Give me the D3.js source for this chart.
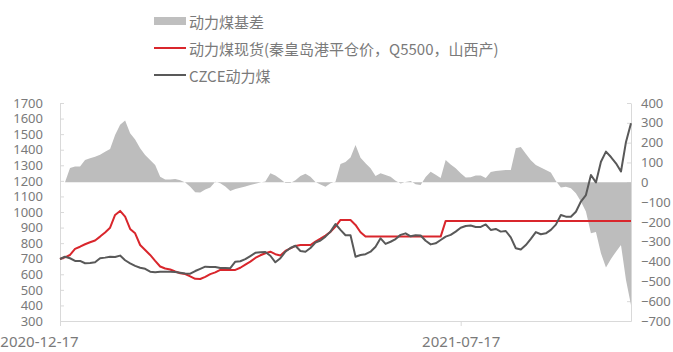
<!DOCTYPE html>
<html>
<head>
<meta charset="utf-8">
<script src="https://cdn.jsdelivr.net/npm/d3@7"></script>
<style>
  body { margin: 0; background: #fff; }
  svg { font-family: "Noto Sans CJK SC", "Noto Sans", sans-serif; }
</style>
</head>
<body>
<div id="chart"></div>
<script>
// 动力煤现货 (秦皇岛港平仓价, Q5500, 山西产)
const spot = [
  698, 709, 724, 763, 777, 793, 806, 817, 842, 869, 899, 981, 1007, 970, 891, 863, 788, 756, 724, 686,
  650, 637, 631, 618, 607, 602, 587, 571, 570, 583, 601, 612, 628, 628, 628, 628, 642, 662, 681, 705,
  722, 735, 745, 729, 721, 750, 766, 782, 788, 788, 788, 810, 829, 849, 872, 906, 949, 949, 949, 917,
  870, 842, 842, 842, 842, 842, 842, 842, 842, 842, 842, 842, 842, 842, 842, 842, 842, 943, 943, 943,
  943, 943, 943, 943, 943, 943, 943, 943, 943, 943, 943, 943, 943, 943, 943, 943, 943, 943, 943, 943,
  943, 943, 943, 943, 943, 943, 943, 943, 943, 943, 943, 943, 943, 943, 943
];

// CZCE动力煤
const futures = [
  698, 713, 703, 686, 686, 671, 673, 677, 703, 707, 713, 711, 720, 690, 670, 654, 642, 635, 617, 613,
  616, 617, 617, 614, 610, 605, 604, 621, 635, 649, 647, 647, 640, 641, 639, 681, 684, 697, 717, 738,
  742, 743, 719, 677, 703, 745, 769, 783, 750, 745, 769, 804, 817, 842, 874, 923, 885, 851, 851, 713,
  724, 729, 745, 777, 831, 795, 809, 826, 853, 863, 844, 851, 849, 815, 792, 799, 820, 842, 853, 874,
  899, 910, 913, 904, 904, 920, 885, 891, 874, 878, 837, 767, 759, 788, 828, 871, 857, 863, 885, 919,
  981, 970, 970, 1002, 1067, 1109, 1238, 1190, 1323, 1388, 1353, 1313, 1260, 1450, 1570
];

// 动力煤基差
const basis = [
  0, 0, 72, 79, 79, 113, 121, 129, 139, 154, 168, 239, 290, 312, 247, 216, 172, 138, 113, 87,
  28, 14, 14, 17, 10, -1, -22, -50, -52, -36, -26, 3, -5, -21, -44, -34, -28, -21, -14, -7,
  -1, 4, 45, 34, 17, -4, -4, 10, 32, 43, 28, 2, -11, -22, -5, 3, 92, 102, 125, 188,
  124, 96, 71, 32, 45, 37, 28, 8, -6, 2, 7, -10, -14, 27, 53, 38, 21, 113, 90, 71,
  45, 24, 25, 34, 34, 22, 52, 57, 60, 62, 62, 172, 178, 144, 111, 87, 75, 62, 49, 7,
  -26, -22, -30, -56, -97, -148, -257, -251, -358, -430, -387, -350, -316, -493, -619
];

const tickDates = ["2020-12-17", "2021-07-17"];
const tickIndex = [0, 80];

const leftTicks = d3.range(300, 1701, 100);
const rightTicks = d3.range(-700, 401, 100);

const legendItems = [
  { name: "动力煤基差", type: "area", color: "#bfbfbf" },
  { name: "动力煤现货(秦皇岛港平仓价，Q5500，山西产)", type: "line", color: "#d9262c" },
  { name: "CZCE动力煤", type: "line", color: "#595959" }
];

const width = 673, height = 352;
const plot = { left: 60, right: 631, top: 103, bottom: 321 };

const svg = d3.select("#chart")
    .append("svg")
    .attr("width", width)
    .attr("height", height);

const x = d3.scaleLinear()
    .domain([0, spot.length - 1])
    .range([plot.left, plot.right]);

const yLeft = d3.scaleLinear()
    .domain([300, 1700])
    .range([plot.bottom, plot.top]);

const yRight = d3.scaleLinear()
    .domain([-700, 400])
    .range([plot.bottom, plot.top]);

// axes
const axisColor = "#d9d9d9";
const textColor = "#7a7a7a";

const gLeft = svg.append("g")
    .attr("transform", `translate(${plot.left},0)`)
    .call(d3.axisLeft(yLeft).tickValues(leftTicks).tickFormat(d3.format("d"))
        .tickSize(-4).tickSizeOuter(0).tickPadding(17));

const gRight = svg.append("g")
    .attr("transform", `translate(${plot.right},0)`)
    .call(d3.axisRight(yRight).tickValues(rightTicks).tickFormat(d3.format("d"))
        .tickSize(-4).tickSizeOuter(0).tickPadding(10));

const gBottom = svg.append("g")
    .attr("transform", `translate(0,${plot.bottom})`)
    .call(d3.axisBottom(x).tickValues(tickIndex).tickSize(5).tickSizeOuter(0).tickPadding(10)
        .tickFormat((d, i) => tickDates[i]));

[gLeft, gRight, gBottom].forEach(g => {
    g.select(".domain").attr("stroke", axisColor);
    g.selectAll(".tick line").attr("stroke", axisColor);
    g.selectAll(".tick text")
        .attr("fill", textColor)
        .style("font-family", "\"Noto Sans\", sans-serif");
});
gLeft.selectAll(".tick text").style("font-size", "13px");
gRight.selectAll(".tick text").style("font-size", "13px");
gBottom.selectAll(".tick text").style("font-size", "15px");
gBottom.selectAll(".tick text").filter((d, i) => i === 0).attr("x", -21);

// basis area (right axis)
const area = d3.area()
    .x((d, i) => x(i))
    .y0(yRight(0))
    .y1(d => yRight(d));

svg.append("path")
    .datum(basis)
    .attr("fill", "#bdbdbd")
    .attr("d", area);

// spot + futures (left axis)
const line = d3.line()
    .x((d, i) => x(i))
    .y(d => yLeft(d));

svg.append("path")
    .datum(spot)
    .attr("fill", "none")
    .attr("stroke", "#d9262c")
    .attr("stroke-width", 2)
    .attr("stroke-linejoin", "round")
    .attr("d", line);

svg.append("path")
    .datum(futures)
    .attr("fill", "none")
    .attr("stroke", "#595959")
    .attr("stroke-width", 2)
    .attr("stroke-linejoin", "round")
    .attr("d", line);

// legend
const legend = svg.append("g").attr("transform", "translate(154,21)");
legendItems.forEach((item, i) => {
    const g = legend.append("g").attr("transform", `translate(0,${i * 27})`);
    if (item.type === "area") {
        g.append("rect").attr("x", 0).attr("y", -4).attr("width", 32).attr("height", 8).attr("fill", item.color);
    } else {
        g.append("line").attr("x1", 0).attr("x2", 32).attr("y1", 0).attr("y2", 0)
            .attr("stroke", item.color).attr("stroke-width", 2);
    }
    g.append("text")
        .attr("x", 35)
        .attr("y", 0)
        .attr("dominant-baseline", "central")
        .attr("fill", textColor)
        .style("font-size", "15px")
        .text(item.name);
});
</script>
</body>
</html>
